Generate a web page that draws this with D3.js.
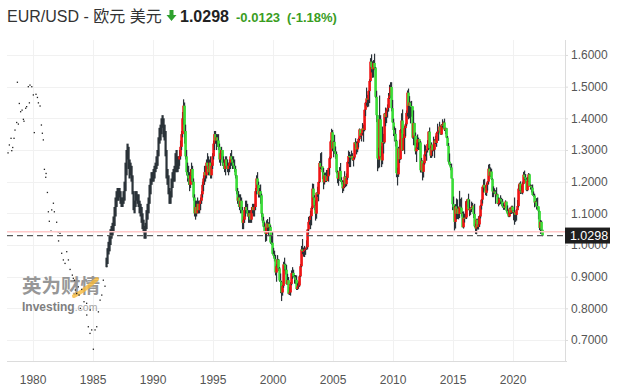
<!DOCTYPE html>
<html><head><meta charset="utf-8">
<script src="https://cdn.jsdelivr.net/npm/d3@7"></script>
<style>body{margin:0;background:#fff;} svg{display:block;}</style>
</head><body>
<svg id="c" width="627" height="390"></svg>
<script>
// ---------------- DATA ----------------
const titleText = "EUR/USD - 欧元 美元";
const lastPrice = 1.0298;
const prevClose = 1.0421;
const changeText = "-0.0123";
const changePctText = "(-1.18%)";

const yTicks = [0.7, 0.8, 0.9, 1.0, 1.1, 1.2, 1.3, 1.4, 1.5, 1.6];
const xTickYears = [1980, 1985, 1990, 1995, 2000, 2005, 2010, 2015, 2020];

// sparse early points (decimal year, value)
const dotYears = [1977.95,1978.06,1978.20,1978.26,1978.34,1978.45,1978.53,1978.67,1978.73,1978.81,1978.89,
  1979.00,1979.12,1979.23,1979.28,1979.42,1979.50,1979.64,1979.73,1979.78,1979.93,
  1980.06,1980.14,1980.28,1980.40,1980.48,1980.62,1980.73,1980.81,1980.89,1980.98,
  1981.09,1981.12,1981.23,1981.31,1981.39,1981.53,1981.59,1981.73,1981.81,
  1982.00,1982.14,1982.16,1982.28,1982.42,1982.56,1982.70,1982.84,1982.98,
  1983.12,1983.31,1983.39,1983.48,1983.56,1983.67,1983.81,1983.87,1983.98,
  1984.09,1984.28,1984.50,1984.51,1984.64,1984.78,1984.80,1984.92,
  1985.06,1985.20,1985.34,1985.48,1985.62,1985.76,1985.89,1986.03,1986.17];
const dotValues = [1.291,1.316,1.337,1.298,1.308,1.337,1.363,1.387,1.514,1.382,1.447,
  1.421,1.426,1.397,1.391,1.432,1.437,1.500,1.449,1.505,1.500,
  1.474,1.355,1.476,1.466,1.449,1.439,1.379,1.353,1.332,1.239,
  1.214,1.226,1.166,1.105,1.075,1.044,1.111,1.132,1.105,
  1.072,1.042,1.013,1.037,0.974,0.953,0.942,0.979,0.953,
  0.923,0.905,0.895,0.889,0.858,0.847,0.868,0.842,0.800,
  0.860,0.821,0.816,0.779,0.742,0.721,0.795,0.732,
  0.671,0.732,0.742,0.789,0.826,0.842,0.889,0.870,0.932];

// monthly high/low, close-only period (dark bars), starting Mar 1986
const blackStart = [1986, 2]; // year, month index (0 = Jan)
const blackHigh = [0.96,0.99,1.01,1.03,1.05,1.06,1.07,1.09,1.12,1.15,
  1.17,1.18,1.18,1.18,1.17,1.15,1.15,1.17,1.20,1.26,1.30,1.32,
  1.31,1.27,1.26,1.25,1.22,1.17,1.14,1.17,1.17,1.16,1.16,1.14,
  1.13,1.12,1.10,1.08,1.06,1.07,1.11,1.13,1.15,1.19,1.21,1.23,
  1.23,1.24,1.25,1.26,1.28,1.30,1.34,1.37,1.38,1.40,1.41,1.40,
  1.38,1.36,1.30,1.24,1.22,1.18,1.17,1.21,1.23,1.24,1.25,1.29,
  1.30,1.28,1.28];
const blackLow = [0.93,0.94,0.97,0.98,1.00,1.02,1.03,1.04,1.06,1.09,
  1.12,1.14,1.14,1.15,1.13,1.12,1.12,1.13,1.14,1.17,1.22,1.27,
  1.24,1.21,1.22,1.20,1.16,1.11,1.10,1.12,1.14,1.13,1.12,1.10,
  1.09,1.07,1.05,1.04,1.02,1.02,1.05,1.08,1.10,1.13,1.16,1.19,
  1.20,1.20,1.21,1.23,1.24,1.25,1.28,1.32,1.33,1.35,1.37,1.34,
  1.33,1.28,1.21,1.19,1.16,1.13,1.13,1.15,1.18,1.20,1.20,1.23,
  1.23,1.23,1.24];

// monthly candles starting Apr 1992
const candleStart = [1992, 3];
const firstOpen = 1.27;
const candleClose = [
  1.28,1.31,1.35,1.40,1.44,1.36,1.28,1.23,1.22,
  1.21,1.19,1.22,1.24,1.20,1.15,1.10,1.12,1.10,1.13,1.11,1.13,
  1.14,1.16,1.19,1.21,1.23,1.22,1.26,1.25,1.23,1.26,1.22,1.25,
  1.28,1.32,1.35,1.33,1.34,1.33,1.31,1.27,1.29,1.30,1.26,1.25,
  1.24,1.27,1.25,1.24,1.25,1.26,1.28,1.27,1.26,1.25,1.24,1.22,
  1.17,1.14,1.15,1.12,1.14,1.11,1.07,1.08,1.11,1.12,1.11,1.10,
  1.09,1.10,1.08,1.11,1.12,1.11,1.12,1.17,1.21,1.19,1.16,1.17,
  1.157,1.099,1.077,1.058,1.043,1.035,1.068,1.055,1.067,1.057,1.008,1.007,
  0.972,0.966,0.956,0.913,0.933,0.954,0.926,0.888,0.883,0.850,0.871,0.939,
  0.938,0.922,0.877,0.889,0.846,0.850,0.877,0.911,0.912,0.901,0.898,0.890,
  0.861,0.869,0.872,0.901,0.933,0.986,0.980,0.981,0.986,0.988,0.993,1.049,
  1.073,1.079,1.091,1.117,1.178,1.150,1.125,1.099,1.165,1.160,1.199,1.259,
  1.246,1.248,1.230,1.198,1.220,1.217,1.202,1.217,1.243,1.274,1.327,1.356,
  1.305,1.326,1.296,1.287,1.230,1.210,1.212,1.234,1.205,1.199,1.179,1.184,
  1.216,1.192,1.212,1.262,1.281,1.279,1.276,1.281,1.268,1.276,1.324,1.320,
  1.302,1.323,1.335,1.365,1.345,1.353,1.368,1.363,1.427,1.449,1.463,1.459,
  1.486,1.518,1.579,1.562,1.555,1.575,1.560,1.468,1.410,1.273,1.270,1.397,
  1.280,1.267,1.325,1.324,1.415,1.404,1.425,1.433,1.464,1.472,1.499,1.432,
  1.387,1.363,1.351,1.329,1.227,1.223,1.305,1.271,1.363,1.393,1.299,1.338,
  1.369,1.381,1.417,1.481,1.440,1.450,1.439,1.438,1.339,1.385,1.345,1.296,
  1.308,1.333,1.334,1.324,1.236,1.266,1.231,1.258,1.286,1.296,1.299,1.319,
  1.358,1.306,1.282,1.317,1.299,1.301,1.330,1.322,1.353,1.358,1.359,1.374,
  1.349,1.380,1.377,1.387,1.364,1.369,1.339,1.313,1.263,1.253,1.245,1.210,
  1.129,1.119,1.073,1.122,1.099,1.115,1.098,1.121,1.118,1.100,1.056,1.086,
  1.083,1.087,1.138,1.145,1.113,1.110,1.117,1.116,1.124,1.098,1.059,1.052,
  1.080,1.057,1.065,1.090,1.124,1.143,1.184,1.190,1.181,1.165,1.190,1.200,
  1.241,1.219,1.232,1.208,1.169,1.168,1.169,1.160,1.160,1.131,1.132,1.147,
  1.145,1.137,1.122,1.121,1.117,1.137,1.108,1.099,1.090,1.115,1.102,1.121,
  1.109,1.103,1.103,1.095,1.110,1.123,1.178,1.194,1.172,1.165,1.193,1.222,
  1.214,1.207,1.173,1.202,1.223,1.186,1.187,1.181,1.158,1.156,1.134,1.137,
  1.123,1.122,1.107,1.054,1.073,1.048,1.0298];
const candleHigh = [
  1.30,1.33,1.36,1.42,1.46,1.45,1.38,1.30,1.26,
  1.25,1.23,1.24,1.26,1.25,1.21,1.16,1.14,1.14,1.15,1.14,1.14,
  1.15,1.17,1.20,1.22,1.25,1.25,1.27,1.29,1.28,1.27,1.28,1.26,
  1.29,1.33,1.36,1.36,1.35,1.35,1.35,1.32,1.30,1.31,1.30,1.28,
  1.27,1.28,1.28,1.27,1.26,1.27,1.29,1.30,1.28,1.28,1.27,1.25,
  1.22,1.18,1.17,1.16,1.16,1.15,1.12,1.09,1.12,1.14,1.14,1.13,
  1.11,1.11,1.11,1.12,1.13,1.13,1.13,1.18,1.22,1.23,1.20,1.18,
  1.191,1.162,1.100,1.089,1.072,1.054,1.078,1.082,1.072,1.088,1.062,1.029,
  1.041,0.991,0.982,0.969,0.939,0.968,0.956,0.930,0.910,0.886,0.874,0.947,
  0.960,0.941,0.937,0.909,0.899,0.867,0.883,0.920,0.930,0.922,0.905,0.905,
  0.904,0.879,0.885,0.905,0.940,0.997,1.019,0.992,0.997,0.991,1.015,1.050,
  1.089,1.092,1.108,1.122,1.194,1.193,1.157,1.141,1.166,1.184,1.200,1.265,
  1.290,1.293,1.246,1.243,1.227,1.229,1.237,1.237,1.244,1.279,1.331,1.367,
  1.363,1.329,1.348,1.311,1.295,1.235,1.228,1.246,1.259,1.214,1.204,1.204,
  1.233,1.217,1.226,1.264,1.298,1.294,1.286,1.298,1.290,1.279,1.324,1.337,
  1.327,1.328,1.339,1.368,1.361,1.353,1.385,1.380,1.428,1.452,1.497,1.474,
  1.488,1.524,1.590,1.602,1.580,1.584,1.604,1.562,1.487,1.410,1.307,1.472,
  1.410,1.312,1.374,1.351,1.417,1.434,1.430,1.444,1.480,1.506,1.514,1.514,
  1.458,1.399,1.374,1.369,1.332,1.244,1.310,1.333,1.366,1.416,1.428,1.350,
  1.376,1.386,1.425,1.488,1.494,1.470,1.453,1.455,1.436,1.425,1.386,1.355,
  1.323,1.349,1.339,1.329,1.328,1.275,1.267,1.264,1.317,1.314,1.302,1.331,
  1.359,1.371,1.312,1.324,1.311,1.342,1.334,1.345,1.357,1.383,1.362,1.389,
  1.377,1.382,1.397,1.390,1.399,1.370,1.370,1.344,1.322,1.289,1.256,1.257,
  1.210,1.153,1.124,1.129,1.147,1.144,1.121,1.171,1.146,1.150,1.105,1.106,
  1.099,1.138,1.141,1.146,1.162,1.143,1.119,1.137,1.133,1.124,1.130,1.067,
  1.083,1.083,1.091,1.095,1.127,1.145,1.185,1.207,1.209,1.188,1.196,1.202,
  1.254,1.256,1.245,1.241,1.210,1.185,1.179,1.173,1.182,1.162,1.150,1.149,
  1.157,1.149,1.145,1.132,1.126,1.141,1.129,1.125,1.111,1.118,1.118,1.124,
  1.124,1.110,1.150,1.099,1.114,1.142,1.191,1.197,1.201,1.188,1.200,1.231,
  1.235,1.224,1.211,1.215,1.227,1.225,1.191,1.190,1.191,1.169,1.162,1.139,
  1.148,1.150,1.118,1.108,1.079,1.077,1.048];
const candleLow = [
  1.25,1.27,1.30,1.34,1.38,1.32,1.27,1.22,1.20,
  1.19,1.17,1.18,1.20,1.19,1.14,1.09,1.08,1.09,1.10,1.10,1.10,
  1.11,1.13,1.15,1.17,1.19,1.20,1.21,1.24,1.22,1.22,1.21,1.21,
  1.24,1.27,1.30,1.32,1.30,1.31,1.30,1.26,1.25,1.27,1.25,1.24,
  1.23,1.22,1.24,1.23,1.22,1.23,1.24,1.25,1.24,1.24,1.23,1.21,
  1.16,1.13,1.12,1.11,1.10,1.10,1.05,1.05,1.07,1.09,1.10,1.09,
  1.07,1.07,1.07,1.07,1.10,1.09,1.09,1.11,1.16,1.18,1.15,1.15,
  1.130,1.088,1.070,1.056,1.040,1.010,1.013,1.041,1.028,1.045,1.004,1.000,
  0.970,0.960,0.948,0.904,0.884,0.927,0.918,0.884,0.848,0.823,0.840,0.865,
  0.920,0.907,0.875,0.874,0.844,0.842,0.840,0.873,0.893,0.898,0.878,0.877,
  0.858,0.858,0.862,0.868,0.899,0.930,0.971,0.963,0.962,0.969,0.985,0.986,
  1.036,1.064,1.050,1.062,1.114,1.142,1.110,1.077,1.083,1.152,1.138,1.196,
  1.240,1.237,1.208,1.176,1.191,1.199,1.199,1.203,1.200,1.222,1.271,1.307,
  1.296,1.277,1.288,1.272,1.226,1.195,1.187,1.203,1.199,1.191,1.164,1.170,
  1.180,1.183,1.186,1.206,1.257,1.246,1.246,1.271,1.266,1.248,1.271,1.307,
  1.286,1.293,1.308,1.330,1.342,1.327,1.348,1.326,1.359,1.407,1.440,1.435,
  1.437,1.448,1.515,1.545,1.528,1.529,1.552,1.464,1.388,1.233,1.242,1.245,
  1.276,1.246,1.255,1.289,1.320,1.375,1.385,1.402,1.421,1.461,1.464,1.422,
  1.386,1.344,1.327,1.311,1.214,1.188,1.215,1.259,1.269,1.353,1.297,1.310,
  1.287,1.343,1.375,1.406,1.397,1.400,1.384,1.405,1.336,1.315,1.314,1.286,
  1.262,1.303,1.300,1.300,1.229,1.229,1.204,1.213,1.254,1.280,1.266,1.292,
  1.300,1.302,1.275,1.275,1.280,1.296,1.275,1.319,1.310,1.352,1.329,1.355,
  1.348,1.348,1.371,1.367,1.360,1.350,1.337,1.313,1.257,1.250,1.236,1.210,
  1.110,1.110,1.046,1.052,1.081,1.082,1.081,1.085,1.109,1.090,1.056,1.052,
  1.071,1.086,1.082,1.121,1.110,1.091,1.095,1.104,1.112,1.085,1.056,1.035,
  1.034,1.049,1.049,1.057,1.084,1.112,1.131,1.166,1.172,1.157,1.155,1.172,
  1.192,1.218,1.215,1.205,1.151,1.151,1.161,1.130,1.153,1.130,1.122,1.127,
  1.129,1.123,1.118,1.111,1.111,1.118,1.103,1.096,1.088,1.088,1.098,1.098,
  1.100,1.078,1.064,1.073,1.077,1.110,1.119,1.171,1.161,1.162,1.160,1.192,
  1.205,1.195,1.170,1.170,1.199,1.185,1.175,1.166,1.156,1.152,1.119,1.122,
  1.112,1.111,1.081,1.047,1.035,1.036,1.028];

// ---------------- CHART ----------------
const svg = d3.select("#c");
const plot = {left: 7, right: 565, top: 40, bottom: 361};
const FONT = "'Liberation Sans', Arial, 'Noto Sans CJK SC', sans-serif";
const UP = "#f01414", DOWN = "#3ade38", WICK = "#2b3339";

function decYear(v) {
  const yr = Math.floor(v), f = v - yr;
  const a = Date.UTC(yr, 0, 1), b = Date.UTC(yr + 1, 0, 1);
  return new Date(a + f * (b - a));
}
const x = d3.scaleUtc().domain([decYear(1977.867), decYear(2024.367)]).range([plot.left, plot.right]);
const y = d3.scaleLinear().domain([0.6337, 1.6473]).range([plot.bottom, plot.top]);

// grid
const grid = svg.append("g");
grid.selectAll("line.h").data(yTicks).join("line")
  .attr("x1", plot.left).attr("x2", plot.right)
  .attr("y1", d => Math.round(y(d)) + 0.5).attr("y2", d => Math.round(y(d)) + 0.5)
  .attr("stroke", "#f1f1f1").attr("stroke-width", 1);
grid.selectAll("line.v").data(xTickYears).join("line")
  .attr("x1", d => Math.round(x(decYear(d))) + 0.5).attr("x2", d => Math.round(x(decYear(d))) + 0.5)
  .attr("y1", plot.top).attr("y2", plot.bottom)
  .attr("stroke", "#f1f1f1").attr("stroke-width", 1);

// watermark
const wm = svg.append("g");
wm.append("text").attr("x", 22).attr("y", 293)
  .attr("font-family", "'Noto Sans CJK SC', sans-serif").attr("font-weight", "bold")
  .attr("font-size", 19.5).attr("fill", "#8c8c8c").attr("opacity", 0.9)
  .text("英为财情");
wm.append("path").attr("d", "M74,296 Q84,291 97,279")
  .attr("stroke", "#f6b93b").attr("stroke-width", 4).attr("fill", "none").attr("opacity", 0.8)
  .attr("stroke-linecap", "round");
const wt = wm.append("text").attr("x", 22).attr("y", 310.5)
  .attr("font-family", FONT).attr("font-size", 12);
wt.append("tspan").attr("font-weight", "bold").attr("fill", "#7f7f7f").text("Investing");
wt.append("tspan").attr("fill", "#a5a5a5").attr("font-size", 10.5).text(".com");

// early dots
svg.append("g").selectAll("rect").data(dotYears).join("rect")
  .attr("x", d => x(decYear(d)) - 0.6).attr("y", (d, i) => y(dotValues[i]) - 0.6)
  .attr("width", 1.3).attr("height", 1.3).attr("fill", "#222");

// dark bars period
const monthDate = (start, i) => new Date(Date.UTC(start[0], start[1] + i, 1));
svg.append("g").selectAll("rect").data(blackHigh).join("rect")
  .attr("x", (d, i) => x(monthDate(blackStart, i)) - 1.1)
  .attr("y", d => y(d))
  .attr("width", 2.2)
  .attr("height", (d, i) => Math.max(1, y(blackLow[i]) - y(d)))
  .attr("fill", WICK);

// candles
const candles = candleClose.map((c, i) => ({
  date: monthDate(candleStart, i),
  open: i === 0 ? firstOpen : candleClose[i - 1],
  close: c, high: candleHigh[i], low: candleLow[i]
}));
const cg = svg.append("g");
candles.forEach(d => {
  const cx = x(d.date);
  cg.append("rect").attr("x", cx - 0.6).attr("width", 1.2)
    .attr("y", y(d.high)).attr("height", Math.max(1, y(d.low) - y(d.high)))
    .attr("fill", WICK);
  const top = y(Math.max(d.open, d.close)), bot = y(Math.min(d.open, d.close));
  cg.append("rect").attr("x", cx - 1.3).attr("width", 2.6)
    .attr("y", top).attr("height", Math.max(1, bot - top))
    .attr("fill", d.close >= d.open ? UP : DOWN);
});

// previous close and last price lines
svg.append("line").attr("x1", plot.left).attr("x2", plot.right)
  .attr("y1", y(prevClose)).attr("y2", y(prevClose))
  .attr("stroke", "#ffc9c9").attr("stroke-width", 1.5);
svg.append("line").attr("x1", plot.left).attr("x2", plot.right)
  .attr("y1", y(lastPrice)).attr("y2", y(lastPrice))
  .attr("stroke", "#5a5a5a").attr("stroke-width", 1.3).attr("stroke-dasharray", "6,4");

// axes
const yAxis = svg.append("g").attr("transform", `translate(${plot.right},0)`)
  .call(d3.axisRight(y).tickValues(yTicks).tickFormat(d3.format(".4f")).tickSize(3).tickPadding(3));
yAxis.select(".domain").attr("stroke", "#dcdcdc").attr("d", `M0.5,${plot.top}V${plot.bottom}`);
yAxis.selectAll(".tick line").attr("stroke", "#dcdcdc");
yAxis.selectAll(".tick text").attr("fill", "#555").attr("font-size", 12).attr("font-family", FONT);

const xAxis = svg.append("g").attr("transform", `translate(0,${plot.bottom})`)
  .call(d3.axisBottom(x).tickValues(xTickYears.map(decYear)).tickFormat(d3.utcFormat("%Y")).tickSize(0).tickPadding(14));
xAxis.select(".domain").attr("stroke", "#dcdcdc").attr("d", `M${plot.left},0.5H${plot.right + 2}`);
xAxis.selectAll(".tick text").attr("fill", "#555").attr("font-size", 12).attr("font-family", FONT);

// last price label
const ly = y(lastPrice);
svg.append("rect").attr("x", plot.right).attr("y", ly - 8).attr("width", 45).attr("height", 16).attr("fill", "#1e1e1e");
svg.append("text").attr("x", plot.right + 24).attr("y", ly + 4.5).attr("text-anchor", "middle")
  .attr("font-family", FONT).attr("font-size", 12.5).attr("fill", "#fff").text(d3.format(".4f")(lastPrice));

// title
svg.append("text").attr("x", 7).attr("y", 22).attr("font-family", FONT)
  .attr("font-size", 16).attr("fill", "#333").text(titleText);
svg.append("path").attr("d", "M169.5,10H173.5V15H176.5L171.5,21L166.5,15H169.5Z").attr("fill", "#2ea12e");
svg.append("text").attr("x", 180).attr("y", 22).attr("font-family", FONT).attr("font-weight", "bold")
  .attr("font-size", 16).attr("fill", "#222").text(d3.format(".4f")(lastPrice));
svg.append("text").attr("x", 236).attr("y", 22).attr("font-family", FONT).attr("font-weight", "bold")
  .attr("font-size", 13).attr("fill", "#3a9d1f").text(changeText);
svg.append("text").attr("x", 287).attr("y", 22).attr("font-family", FONT).attr("font-weight", "bold")
  .attr("font-size", 13).attr("fill", "#3a9d1f").text(changePctText);
</script>
</body></html>
